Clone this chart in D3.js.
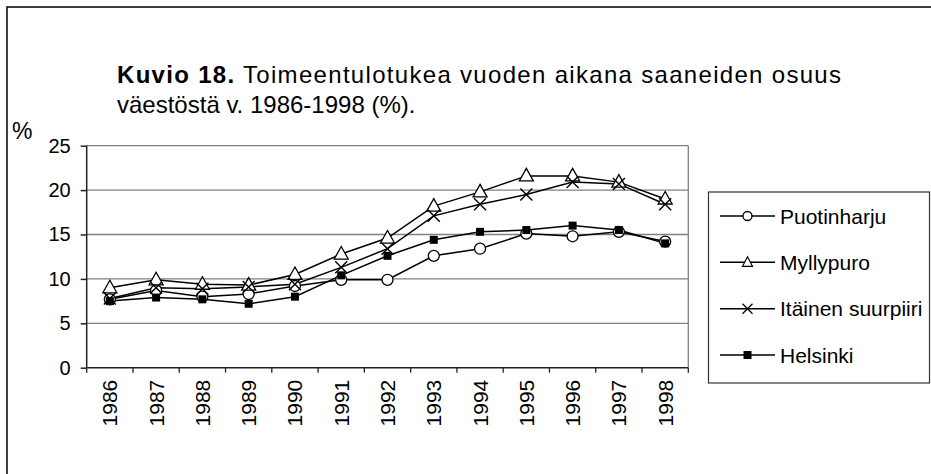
<!DOCTYPE html>
<html>
<head>
<meta charset="utf-8">
<script src="https://cdn.jsdelivr.net/npm/d3@7"></script>
<style>
  body { margin: 0; background: #fff; }
  svg { display: block; font-family: Arial, "Liberation Sans", sans-serif; }
</style>
</head>
<body>
<svg width="931" height="474" viewBox="0 0 931 474"></svg>
<script>
// Data
const years = ["1986", "1987", "1988", "1989", "1990", "1991", "1992", "1993", "1994", "1995", "1996", "1997", "1998"];
const puotinharju = [7.7, 8.7, 8.0, 8.3, 9.2, 9.9, 9.9, 12.6, 13.4, 15.1, 14.8, 15.3, 14.2];
const myllypuro = [9.0, 9.9, 9.4, 9.3, 10.5, 12.8, 14.6, 18.2, 19.8, 21.6, 21.6, 20.9, 19.0];
const itainen = [7.8, 9.0, 8.9, 9.1, 9.4, 11.3, 13.4, 17.1, 18.4, 19.5, 20.9, 20.7, 18.4];
const helsinki = [7.5, 7.9, 7.7, 7.2, 8.0, 10.4, 12.6, 14.4, 15.3, 15.5, 16.0, 15.5, 14.0];
const yTicks = [0, 5, 10, 15, 20, 25];

const series = [
    { name: "Puotinharju", values: puotinharju, marker: "circle" },
    { name: "Myllypuro", values: myllypuro, marker: "triangle" },
    { name: "Itäinen suurpiiri", values: itainen, marker: "cross" },
    { name: "Helsinki", values: helsinki, marker: "square" }
];

const svg = d3.select("svg");

// outer frame (only top and left edges visible)
svg.append("path")
    .attr("d", "M7,480 V7 H935")
    .attr("fill", "none")
    .attr("stroke", "#000")
    .attr("stroke-width", 1.5);

// title
const title = svg.append("text").attr("font-size", 24).attr("fill", "#000")
    .attr("x", 117).attr("y", 83);
title.append("tspan").attr("font-weight", "bold").text("Kuvio 18.");
title.append("tspan").text(" Toimeentulotukea vuoden aikana saaneiden osuus");
title.attr("textLength", 724).attr("lengthAdjust", "spacing");
svg.append("text").attr("x", 117).attr("y", 113).attr("font-size", 24)
    .text("väestöstä v. 1986-1998 (%).");
svg.append("text").attr("x", 12).attr("y", 139).attr("font-size", 23).text("%");

const plot = { left: 86.7, right: 688.3, top: 145.7, bottom: 367.7 };

const x = d3.scaleBand().domain(years).range([plot.left, plot.right]);
const y = d3.scaleLinear().domain([0, 25]).range([plot.bottom, plot.top]);

// gridlines
svg.append("g")
    .selectAll("line")
    .data(yTicks.filter(d => d > 0))
    .join("line")
    .attr("x1", plot.left).attr("x2", plot.right)
    .attr("y1", d => y(d)).attr("y2", d => y(d))
    .attr("stroke", "#808080").attr("stroke-width", 1.3);

// right border of plot area
svg.append("line")
    .attr("x1", plot.right).attr("x2", plot.right)
    .attr("y1", plot.top).attr("y2", plot.bottom)
    .attr("stroke", "#808080").attr("stroke-width", 1.3);

// y axis
const yAxis = svg.append("g")
    .attr("transform", `translate(${plot.left},0)`)
    .call(d3.axisLeft(y).tickValues(yTicks).tickSize(6).tickPadding(10));
yAxis.selectAll("text").attr("font-size", 20).attr("fill", "#000")
    .attr("font-family", "Arial, 'Liberation Sans', sans-serif");
yAxis.selectAll("line, path").attr("stroke", "#222").attr("stroke-width", 1.5);
yAxis.select(".domain").attr("d", `M0,${plot.top}V${plot.bottom}`);

// x axis with ticks at category boundaries
const xg = svg.append("g").attr("transform", `translate(0,${plot.bottom})`);
xg.append("line")
    .attr("x1", plot.left).attr("x2", plot.right)
    .attr("stroke", "#222").attr("stroke-width", 1.5);
xg.selectAll("line.tick")
    .data(years.concat(["end"]))
    .join("line")
    .attr("class", "tick")
    .attr("x1", (d, i) => plot.left + i * x.step())
    .attr("x2", (d, i) => plot.left + i * x.step())
    .attr("y1", 0).attr("y2", 5)
    .attr("stroke", "#222").attr("stroke-width", 1.3);
xg.selectAll("text")
    .data(years)
    .join("text")
    .attr("transform", d => `translate(${x(d) + x.bandwidth() / 2 + 7.5},12) rotate(-90)`)
    .attr("text-anchor", "end")
    .attr("font-size", 21)
    .text(d => d);

const cx = d => x(d) + x.bandwidth() / 2;

const line = d3.line()
    .x((v, i) => cx(years[i]))
    .y(v => y(v));

function drawMarker(g, type) {
    if (type === "circle") {
        g.append("circle").attr("r", 5.5).attr("fill", "#fff")
            .attr("stroke", "#000").attr("stroke-width", 1.3);
    } else if (type === "triangle") {
        g.append("path").attr("d", "M0,-7.5 L7,5 L-7,5 Z").attr("fill", "#fff")
            .attr("stroke", "#000").attr("stroke-width", 1.3);
    } else if (type === "cross") {
        g.append("path").attr("d", "M-6,-6 L6,6 M-6,6 L6,-6")
            .attr("stroke", "#000").attr("stroke-width", 1.4);
    } else {
        g.append("rect").attr("x", -4).attr("y", -4).attr("width", 8).attr("height", 8)
            .attr("fill", "#000");
    }
}

series.forEach(s => {
    svg.append("path")
        .datum(s.values)
        .attr("d", line)
        .attr("fill", "none")
        .attr("stroke", "#000")
        .attr("stroke-width", 1.5);
});

series.forEach(s => {
    svg.append("g")
        .selectAll("g")
        .data(s.values)
        .join("g")
        .attr("transform", (v, i) => `translate(${cx(years[i])},${y(v)})`)
        .each(function () { drawMarker(d3.select(this), s.marker); });
});

// legend
svg.append("rect")
    .attr("x", 708.5).attr("y", 192).attr("width", 221).attr("height", 191)
    .attr("fill", "#fff").attr("stroke", "#333").attr("stroke-width", 1.2);

const legendY = d3.scalePoint().domain(series.map(s => s.name)).range([216, 355]);
const lg = svg.append("g").selectAll("g")
    .data(series)
    .join("g")
    .attr("transform", d => `translate(0,${legendY(d.name)})`);
lg.append("line")
    .attr("x1", 720).attr("x2", 775)
    .attr("stroke", "#000").attr("stroke-width", 1.5);
lg.append("g")
    .attr("transform", "translate(747.5,0)")
    .each(function (d) {
        const g = d3.select(this);
        if (d.marker === "circle") {
            g.append("circle").attr("r", 4.5).attr("fill", "#fff").attr("stroke", "#000").attr("stroke-width", 1.3);
        } else if (d.marker === "triangle") {
            g.append("path").attr("d", "M0,-5.5 L5,4 L-5,4 Z").attr("fill", "#fff").attr("stroke", "#000").attr("stroke-width", 1.2);
        } else if (d.marker === "cross") {
            g.append("path").attr("d", "M-5,-5 L5,5 M-5,5 L5,-5").attr("stroke", "#000").attr("stroke-width", 1.3);
        } else {
            g.append("rect").attr("x", -4).attr("y", -4).attr("width", 8).attr("height", 8).attr("fill", "#000");
        }
    });
lg.append("text")
    .attr("x", 780).attr("y", 7.5)
    .attr("font-size", 21)
    .text(d => d.name);
</script>
</body>
</html>
